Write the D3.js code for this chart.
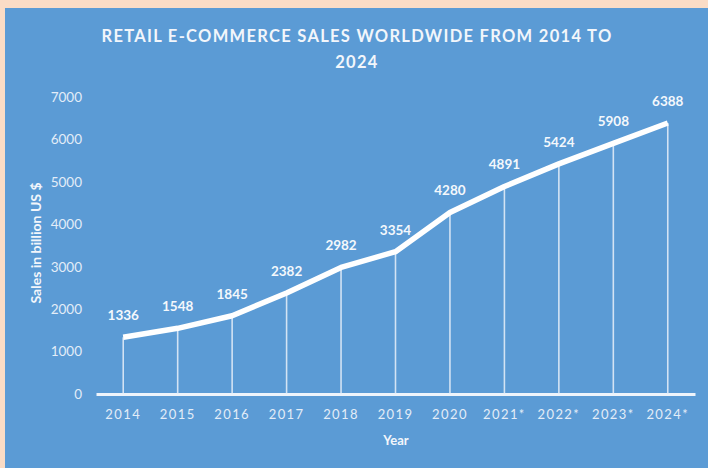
<!DOCTYPE html>
<html>
<head>
<meta charset="utf-8">
<script src="https://cdn.jsdelivr.net/npm/d3@7"></script>
<style>
  html, body { margin: 0; padding: 0; background: #fadcc6; }
  svg { display: block; }
</style>
</head>
<body>
<svg id="chart" width="708" height="468"></svg>
<script>
// Retail e-commerce sales worldwide, billion US $
const years = ["2014", "2015", "2016", "2017", "2018", "2019", "2020", "2021*", "2022*", "2023*", "2024*"];
const sales = [1336, 1548, 1845, 2382, 2982, 3354, 4280, 4891, 5424, 5908, 6388];
const yTicks = [0, 1000, 2000, 3000, 4000, 5000, 6000, 7000];
const titleLines = ["RETAIL E-COMMERCE SALES WORLDWIDE FROM 2014 TO", "2024"];

const W = 708, H = 468;
const svg = d3.select("#chart");
const FONT = "Lato, 'Open Sans', sans-serif";

// peach frame with blue panel
svg.append("rect").attr("width", W).attr("height", H).attr("fill", "#fadcc6");
svg.append("rect").attr("x", 5).attr("y", 8).attr("width", W - 5).attr("height", H - 8).attr("fill", "#5b9bd5");

const plot = { left: 96, right: 695, top: 97, bottom: 394 };

const x = d3.scaleBand().domain(years).range([plot.left, plot.right]).padding(0);
const y = d3.scaleLinear().domain([0, 7000]).range([plot.bottom, plot.top]);
const cx = d => x(d) + x.bandwidth() / 2;

// title
svg.append("g").selectAll("text").data(titleLines).join("text")
  .attr("x", 357).attr("y", (d, i) => 42 + i * 26)
  .attr("text-anchor", "middle")
  .attr("font-family", FONT).attr("font-weight", "bold").attr("font-size", 16.5)
  .attr("letter-spacing", 1.3)
  .attr("fill", "#f2f6fb")
  .text(d => d);

// y axis labels
const yAxis = d3.axisLeft(y).tickValues(yTicks).tickSize(0).tickPadding(14).tickFormat(d3.format("d"));
const gy = svg.append("g").attr("transform", `translate(${plot.left},0)`).call(yAxis);
gy.select(".domain").remove();
gy.selectAll("text").attr("font-family", FONT).attr("font-size", 13.5).attr("fill", "#e3edf8");

// x axis with baseline
const xAxis = d3.axisBottom(x).tickSize(0).tickPadding(16);
const gx = svg.append("g").attr("transform", `translate(0,${plot.bottom})`).call(xAxis);
gx.select(".domain").attr("stroke", "#eef4fb").attr("stroke-width", 3);
gx.selectAll("text").attr("font-family", FONT).attr("font-size", 13).attr("letter-spacing", 1.4)
  .attr("fill", "#e3edf8");

// axis titles
svg.append("text")
  .attr("transform", "translate(41,243) rotate(-90)")
  .attr("text-anchor", "middle")
  .attr("font-family", FONT).attr("font-weight", "bold").attr("font-size", 14)
  .attr("fill", "#f2f6fb")
  .text("Sales in billion US $");

svg.append("text")
  .attr("x", 396).attr("y", 445)
  .attr("text-anchor", "middle")
  .attr("font-family", FONT).attr("font-weight", "bold").attr("font-size", 13)
  .attr("fill", "#f2f6fb")
  .text("Year");

const pts = years.map((yr, i) => ({ yr, v: sales[i] }));

// drop lines from each point to the baseline
svg.append("g").selectAll("line").data(pts).join("line")
  .attr("x1", d => cx(d.yr)).attr("x2", d => cx(d.yr))
  .attr("y1", d => y(d.v)).attr("y2", plot.bottom)
  .attr("stroke", "#e8f0fa").attr("stroke-width", 1.6).attr("opacity", 0.85);

// sales line
const line = d3.line().x(d => cx(d.yr)).y(d => y(d.v));
svg.append("path").datum(pts)
  .attr("d", line)
  .attr("fill", "none").attr("stroke", "#ffffff").attr("stroke-width", 5.5)
  .attr("stroke-linejoin", "round");

// value labels
svg.append("g").selectAll("text").data(pts).join("text")
  .attr("x", d => cx(d.yr)).attr("y", d => y(d.v) - 17)
  .attr("text-anchor", "middle")
  .attr("font-family", FONT).attr("font-weight", "bold").attr("font-size", 13.5)
  .attr("fill", "#f4f8fc")
  .text(d => d.v);
</script>
</body>
</html>
